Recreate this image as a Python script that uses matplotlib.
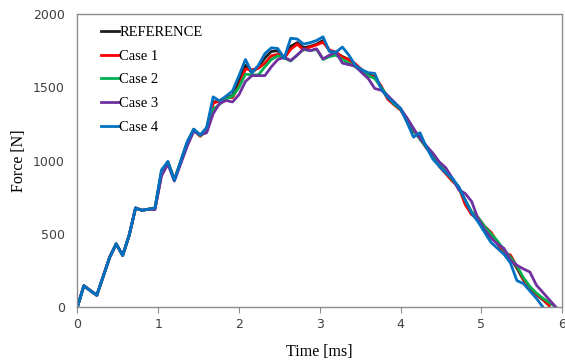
import matplotlib
matplotlib.use('Agg')
import matplotlib.pyplot as plt

# sample times [ms], one sample every 0.08 ms
time_ms = [0.00, 0.08, 0.16, 0.24, 0.32, 0.40, 0.48, 0.56, 0.64, 0.72,
           0.80, 0.88, 0.96, 1.04, 1.12, 1.20, 1.28, 1.36, 1.44, 1.52,
           1.60, 1.68, 1.76, 1.84, 1.92, 2.00, 2.08, 2.16, 2.24, 2.32,
           2.40, 2.48, 2.56, 2.64, 2.72, 2.80, 2.88, 2.96, 3.04, 3.12,
           3.20, 3.28, 3.36, 3.44, 3.52, 3.60, 3.68, 3.76, 3.84, 3.92,
           4.00, 4.08, 4.16, 4.24, 4.32, 4.40, 4.48, 4.56, 4.64, 4.72,
           4.80, 4.88, 4.96, 5.04, 5.12, 5.20, 5.28, 5.36, 5.44, 5.52,
           5.60, 5.68, 5.76, 5.84, 5.92]

# first part is the same for all runs
start = [0, 145, 112, 80, 210, 340, 431, 352, 488, 676, 660, 668]

reference = start + [676, 920, 990, 868, 995, 1125, 1212, 1172, 1220, 1400,
                     1405, 1425, 1445, 1540, 1650, 1600, 1640, 1700, 1745, 1750,
                     1700, 1780, 1805, 1770, 1780, 1795, 1820, 1750, 1735, 1710,
                     1690, 1655, 1615, 1585, 1575, 1500, 1425, 1385, 1350, 1270,
                     1200, 1160, 1090, 1030, 965, 915, 865, 815, 710, 635,
                     600, 540, 490, 430, 375, 335, 265, 185, 130, 85,
                     50, 10]
case1 = start + [670, 900, 985, 870, 990, 1115, 1210, 1165, 1210, 1390,
                 1410, 1430, 1430, 1510, 1625, 1620, 1630, 1665, 1715, 1725,
                 1700, 1760, 1795, 1755, 1775, 1790, 1808, 1755, 1740, 1705,
                 1690, 1660, 1620, 1580, 1570, 1510, 1420, 1380, 1345, 1280,
                 1210, 1150, 1085, 1040, 960, 910, 860, 820, 700, 630,
                 610, 550, 510, 440, 370, 355, 275, 190, 125, 85,
                 55, 10]
case2 = start + [672, 905, 985, 868, 990, 1110, 1205, 1170, 1200, 1350,
                 1385, 1420, 1440, 1500, 1590, 1585, 1585, 1640, 1690, 1715,
                 1700, 1680, 1720, 1760, 1750, 1760, 1690, 1710, 1720, 1690,
                 1665, 1640, 1610, 1580, 1560, 1500, 1440, 1385, 1350, 1285,
                 1210, 1145, 1090, 1040, 970, 925, 870, 815, 730, 650,
                 610, 550, 500, 450, 390, 340, 280, 200, 140, 95,
                 60, 30, 0]
case3 = start + [665, 895, 975, 860, 980, 1100, 1200, 1175, 1190, 1320,
                 1390, 1410, 1400, 1450, 1540, 1580, 1580, 1580, 1640, 1690,
                 1705, 1683, 1720, 1763, 1750, 1763, 1694, 1720, 1740, 1665,
                 1655, 1645, 1600, 1560, 1492, 1480, 1444, 1400, 1355, 1290,
                 1220, 1150, 1100, 1050, 990, 950, 880, 800, 775, 720,
                 600, 530, 470, 430, 400, 320, 285, 260, 239, 150,
                 100, 50, 0]
case4 = start + [676, 935, 994, 865, 1000, 1131, 1215, 1175, 1226, 1435,
                 1407, 1440, 1475, 1580, 1690, 1600, 1650, 1730, 1770, 1765,
                 1700, 1835, 1830, 1795, 1805, 1820, 1845, 1745, 1740, 1775,
                 1720, 1650, 1620, 1600, 1595, 1490, 1430, 1395, 1355, 1260,
                 1160, 1190, 1090, 1010, 960, 915, 880, 820, 730, 640,
                 580, 510, 440, 400, 360, 300, 180, 160, 110, 60,
                 0]

series = [('REFERENCE', reference, '#1e1e1e'),
          ('Case 1', case1, '#ff0000'),
          ('Case 2', case2, '#00b050'),
          ('Case 3', case3, '#7030a0'),
          ('Case 4', case4, '#0070c0')]

fig = plt.figure(figsize=(5.65, 3.62), dpi=100)
ax = fig.add_axes([0.137, 0.152, 0.858, 0.809])

for name, vals, col in series:
    ax.plot(time_ms[:len(vals)], vals, color=col, lw=2.0, label=name)

ax.set_xlim(0, 6)
ax.set_ylim(0, 2000)
ax.set_xticks([0, 1, 2, 3, 4, 5, 6])
ax.set_yticks([0, 500, 1000, 1500, 2000])

for sp in ax.spines.values():
    sp.set_color('#8c8c8c')
    sp.set_linewidth(1.0)
ax.tick_params(axis='x', direction='out', length=4, color='#8c8c8c',
               labelsize=9, labelcolor='#404040', pad=4)
ax.tick_params(axis='y', length=0, labelsize=9, labelcolor='#404040', pad=9)

ax.set_xlabel('Time [ms]', family='Liberation Serif', fontsize=11.5, labelpad=9)
ax.set_ylabel('Force [N]', family='Liberation Serif', fontsize=11.5, labelpad=4)

ax.legend(loc='upper left', frameon=False, handlelength=1.2, handletextpad=0.05,
          labelspacing=0.72, borderaxespad=0.4, bbox_to_anchor=(0.025, 1.0),
          prop={'family': 'Liberation Serif', 'size': 10.5})

fig.savefig('out.png', dpi=100)
